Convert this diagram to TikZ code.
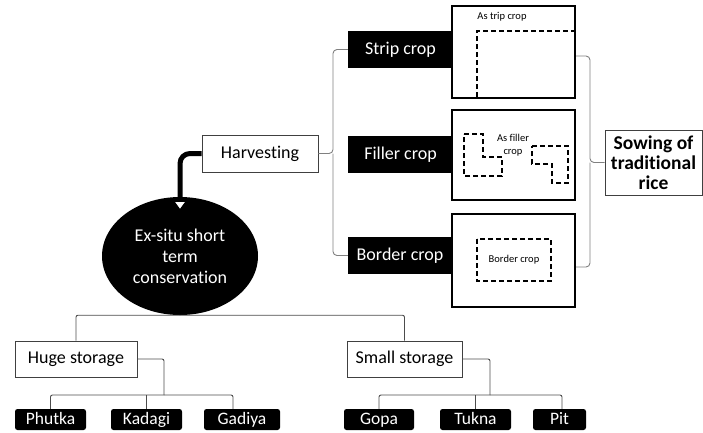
\documentclass[tikz,border=0pt]{standalone}
\usepackage{fontspec}
\setmainfont{Carlito}[Ligatures={NoCommon,NoRare,NoContextual}]
\usetikzlibrary{arrows.meta,shapes.geometric}
\begin{document}
\begin{tikzpicture}[x=1pt,y=-1pt,
 blk/.style={fill=black,text=white,inner sep=0pt,font=\fontsize{18}{21}\selectfont},
 wbox/.style={draw=black!75,line width=0.8pt,fill=white,inner sep=0pt,font=\fontsize{18}{21}\selectfont},
 crop/.style={draw=black,line width=2.2pt,inner sep=0pt},
 dsh/.style={draw=black,line width=2pt,dash pattern=on 5pt off 3pt},
 brace/.style={draw=gray,line width=0.9pt,rounded corners=4pt},
 tree/.style={draw=black!70,line width=0.9pt,rounded corners=2pt},
 leaf/.style={fill=black,text=white,rounded corners=2.5pt,inner sep=0pt,minimum height=21pt,text height=12pt,text depth=3pt,font=\fontsize{17.5}{20}\selectfont},
 small/.style={font=\fontsize{10.5}{13}\selectfont,inner sep=0pt}]
\useasboundingbox (0,0) rectangle (703,432);
% black labels
\node[blk,minimum width=105pt,minimum height=37pt] (strip) at (400.5,49.5) {Strip crop};
\node[blk,minimum width=105pt,minimum height=37pt] (filler) at (400.5,154.5) {Filler crop};
\node[blk,minimum width=104pt,minimum height=37pt] (border) at (400,255.5) {Border crop};
% crop boxes
\node[crop,minimum width=123pt,minimum height=92pt] (stripbox) at (513.5,52) {};
\node[crop,minimum width=123pt,minimum height=90pt] (fillerbox) at (513.5,155) {};
\node[crop,minimum width=123pt,minimum height=93pt] (borderbox) at (513.5,260.5) {};
% strip box content
\node[small] (striptxt) at (502,17) {As trip crop};
\draw[dsh] (477,97) -- (477,31) -- (574,31);
% filler box content
\node[small,align=center] (fillertxt) at (513,145) {As filler\\crop};
\draw[dsh] (464,134) -- (483,134) -- (483,157) -- (502,157) -- (502,176) -- (464,176) -- cycle;
\draw[dsh] (532,146) -- (568,146) -- (568,183) -- (552,183) -- (552,164) -- (532,164) -- cycle;
% border box content
\draw[dsh] (477,239) rectangle (551,281);
\node[small] (bordertxt) at (514,260) {Border crop};
% harvesting
\node[wbox,minimum width=116pt,minimum height=37pt] (harv) at (260,153.5) {Harvesting};
% sowing
\node[wbox,minimum width=97pt,minimum height=65pt,align=center,font=\bfseries\fontsize{19.5}{20}\selectfont] (sow) at (653.5,162.5) {Sowing of\\traditional\\rice};
% braces
\coordinate (lj) at (333,153.5);
\coordinate (rj) at (590,162.5);
\draw[brace] (strip.west) -| (lj) -- (harv.east);
\draw[brace] (border.west) -| (lj);
\draw[brace] ([yshift=-4pt]stripbox.east) -| (rj) -- (sow.west);
\draw[brace] ([yshift=-6.5pt]borderbox.east) -| (rj);
% ellipse
\node[ellipse,fill=black,text=white,minimum width=156pt,minimum height=118pt,inner sep=0pt,align=center,font=\fontsize{18}{21}\selectfont] (ell) at (180,256) {Ex-situ short\\term\\conservation};
% bent arrow
\coordinate (atip) at (180,212);
\draw[line width=5pt,rounded corners=10pt,-{Triangle[fill=white,length=12pt,width=17pt,line width=1.8pt]}] (harv.west) -| (atip);
% storage
\node[wbox,minimum width=122pt,minimum height=36pt] (hs) at (76,359) {Huge storage};
\node[wbox,minimum width=115pt,minimum height=36pt] (ss) at (404.5,359) {Small storage};
\draw[tree] (hs.north) |- (ell.south) -| (ss.north);
% leaves
\node[leaf,minimum width=71pt] (phu) at (50.5,419.5) {Phutka};
\node[leaf,minimum width=71pt] (kad) at (146.5,419.5) {Kadagi};
\node[leaf,minimum width=76pt] (gad) at (242,419.5) {Gadiya};
\node[leaf,minimum width=70pt] (gop) at (379,419.5) {Gopa};
\node[leaf,minimum width=71pt] (tuk) at (475.5,419.5) {Tukna};
\node[leaf,minimum width=53pt] (pit) at (559.5,419.5) {Pit};
% huge storage connectors
\coordinate (hsj) at (164,395);
\draw[tree] (hs.east) -| (hsj);
\draw[tree] (phu.north) |- (hsj);
\draw[tree] ([xshift=-9pt]gad.north) |- (hsj);
\draw[tree] (kad.north) -- (kad.north |- hsj);
% small storage connectors
\coordinate (ssj) at (490,395);
\draw[tree] (ss.east) -| (ssj);
\draw[tree] (gop.north) |- (ssj);
\draw[tree] ([xshift=2.5pt]pit.north) |- (ssj);
\draw[tree] (tuk.north) -- (tuk.north |- ssj);
\end{tikzpicture}
\end{document}
